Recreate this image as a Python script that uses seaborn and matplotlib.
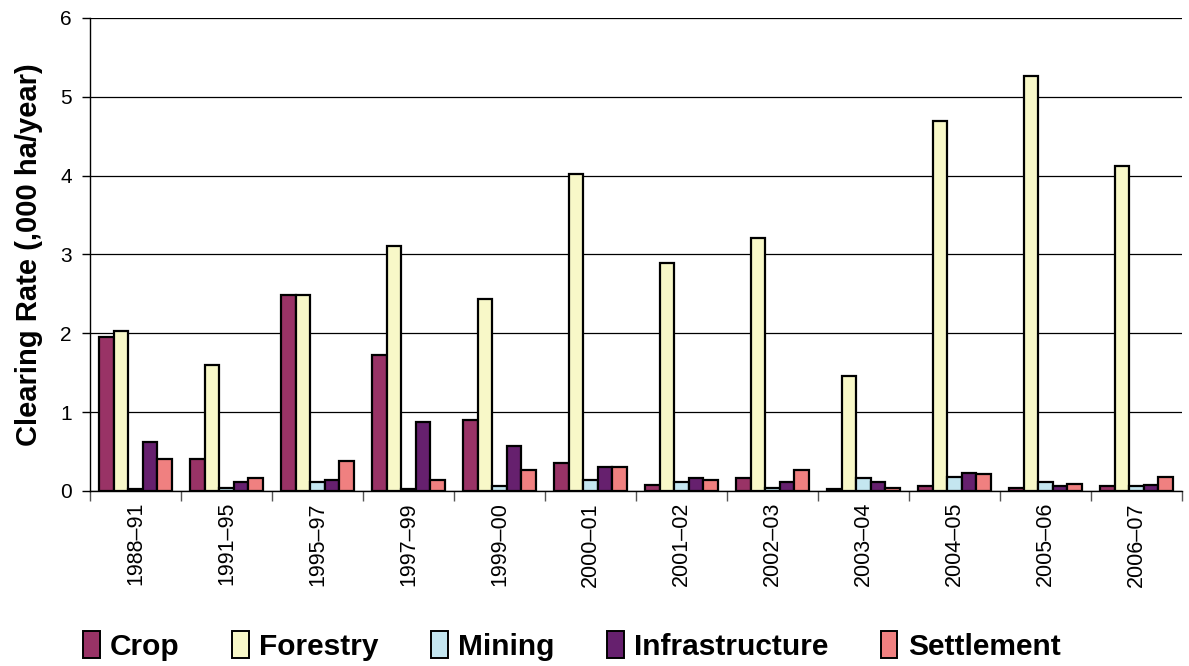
import numpy as np
import pandas as pd
import matplotlib
matplotlib.use('Agg')
import matplotlib.pyplot as plt
from matplotlib.ticker import FixedLocator
import seaborn as sns

PERIODS = ['1988–91', '1991–95', '1995–97', '1997–99', '1999–00', '2000–01',
           '2001–02', '2002–03', '2003–04', '2004–05', '2005–06', '2006–07']
CROP = [1.95, 0.40, 2.48, 1.72, 0.90, 0.35, 0.08, 0.16, 0.02, 0.06, 0.04, 0.06]
FORESTRY = [2.03, 1.60, 2.48, 3.11, 2.44, 4.02, 2.89, 3.21, 1.46, 4.69, 5.26, 4.12]
MINING = [0.02, 0.04, 0.11, 0.02, 0.06, 0.14, 0.11, 0.04, 0.16, 0.18, 0.11, 0.06]
INFRASTRUCTURE = [0.62, 0.11, 0.14, 0.88, 0.57, 0.30, 0.16, 0.11, 0.11, 0.23, 0.06, 0.08]
SETTLEMENT = [0.40, 0.16, 0.38, 0.14, 0.26, 0.30, 0.14, 0.26, 0.04, 0.21, 0.085, 0.18]

SERIES = ['Crop', 'Forestry', 'Mining', 'Infrastructure', 'Settlement']
COLORS = ['#993366', '#F8F8C8', '#C4E6F0', '#66206E', '#F08080']

rows = []
for name, vals in zip(SERIES, [CROP, FORESTRY, MINING, INFRASTRUCTURE, SETTLEMENT]):
    for p, v in zip(PERIODS, vals):
        rows.append({'Period': p, 'Use': name, 'Rate': v})
df = pd.DataFrame(rows)

sns.set_style('white')
plt.rcParams['font.family'] = ['Liberation Sans', 'DejaVu Sans']
plt.rcParams['text.color'] = 'black'
plt.rcParams['axes.labelcolor'] = 'black'
plt.rcParams['xtick.color'] = 'black'
plt.rcParams['ytick.color'] = 'black'

fig = plt.figure(figsize=(11.89, 6.66), dpi=100)
ax = fig.add_axes([0.0757, 0.2628, 0.9183, 0.7102])

sns.barplot(data=df, x='Period', y='Rate', hue='Use', order=PERIODS,
            hue_order=SERIES, palette=COLORS, width=0.8, gap=0,
            edgecolor='black', linewidth=1.6, saturation=1, ax=ax)

ax.set_ylim(0, 6)
ax.set_xlim(-0.5, len(PERIODS) - 0.5)
ax.set_yticks(range(0, 7))
ax.tick_params(axis='y', labelsize=15, length=6, width=1, color='black',
               direction='out', left=True, pad=7)
ax.yaxis.grid(True, color='black', linewidth=0.9)
ax.set_axisbelow(True)

# category boundaries as tick marks
ax.xaxis.set_minor_locator(FixedLocator(np.arange(-0.5, len(PERIODS), 1.0)))
ax.tick_params(axis='x', which='minor', length=7, width=1, color='#555555', bottom=True)
ax.tick_params(axis='x', which='major', length=0, pad=8, labelsize=15.5, rotation=90)

for s in ['top', 'right']:
    ax.spines[s].set_visible(False)
for s in ['left', 'bottom']:
    ax.spines[s].set_color('black')
    ax.spines[s].set_linewidth(1)

ax.set_xlabel('')
ax.set_ylabel('Clearing Rate (,000 ha/year)', fontsize=21, fontweight='bold')
ax.yaxis.set_label_coords(-0.043, 0.5)

ax.legend_.remove()
handles = [plt.Rectangle((0, 0), 1, 1, facecolor=c, edgecolor='black', linewidth=1.4) for c in COLORS]
fig.legend(handles, SERIES, loc='center', bbox_to_anchor=(0.481, 0.03), ncol=5,
           frameon=False, prop={'size': 21.5, 'weight': 'bold'},
           handlelength=0.55, handleheight=1.0, handletextpad=0.35, columnspacing=1.76)

plt.savefig('out.png', dpi=100)
